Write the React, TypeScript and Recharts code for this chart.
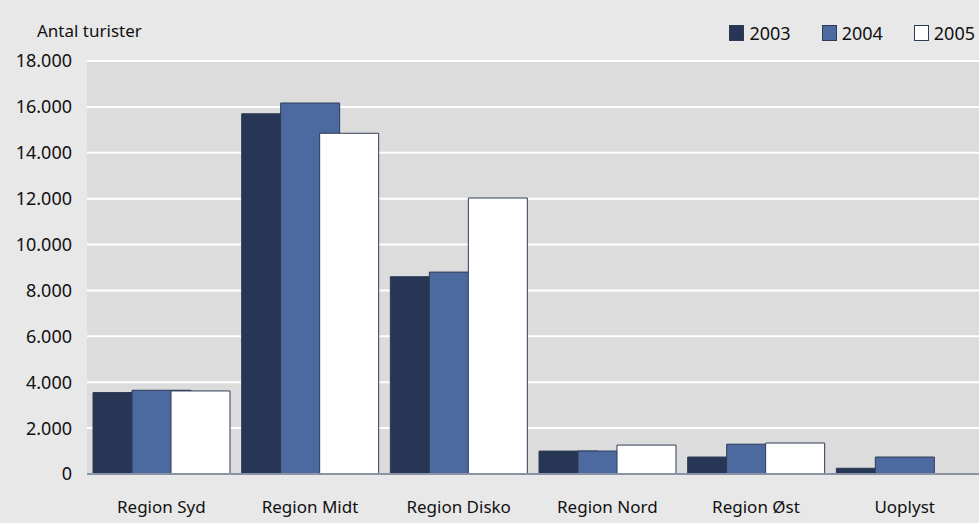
import { BarChart, Bar, XAxis, YAxis, CartesianGrid } from 'recharts';

const regions = ['Region Syd', 'Region Midt', 'Region Disko', 'Region Nord', 'Region Øst', 'Uoplyst'];
const tourists2003 = [3550, 15700, 8600, 1000, 740, 250];
const tourists2004 = [3650, 16170, 8800, 1000, 1300, 740];
const tourists2005 = [3620, 14850, 12030, 1260, 1350, 20];
const yTicks = [0, 2000, 4000, 6000, 8000, 10000, 12000, 14000, 16000, 18000];

const series = [
  { key: 'y2003', name: '2003', fill: '#263654' },
  { key: 'y2004', name: '2004', fill: '#4d6aa0' },
  { key: 'y2005', name: '2005', fill: '#ffffff' },
];

const data = regions.map((region, i) => ({
  region,
  y2003: tourists2003[i],
  y2004: tourists2004[i],
  y2005: tourists2005[i],
}));

const font = '"Noto Sans", sans-serif';

function fmt(v: number) {
  return v === 0 ? '0' : v.toLocaleString('da-DK').replace(/,/g, '.');
}

export default function App() {
  return (
    <div style={{ position: 'absolute', left: 0, top: 0, width: 979, height: 523, background: '#e8e8e8' }}>
      <div style={{ position: 'absolute', left: 37, top: 19, fontFamily: font, fontSize: 17, color: '#111' }}>
        Antal turister
      </div>
      {/* legend, top right */}
      <div
        style={{
          position: 'absolute',
          right: 4,
          top: 21,
          display: 'flex',
          gap: 31,
          fontFamily: font,
          fontSize: 18,
          color: '#111',
          zIndex: 1,
        }}
      >
        {series.map((s) => (
          <div key={s.key} style={{ display: 'flex', alignItems: 'center', gap: 5 }}>
            <span
              style={{
                display: 'inline-block',
                width: 13,
                height: 14,
                background: s.fill,
                border: '1px solid #2e3b57',
              }}
            />
            {s.name}
          </div>
        ))}
      </div>
      <BarChart
        width={979}
        height={523}
        data={data}
        margin={{ top: 61, right: 0, left: 0, bottom: 19 }}
        barSize={59}
        barGap={-20}
      >
        <CartesianGrid vertical={false} stroke="#ffffff" strokeWidth={2} fill="#dcdcdc" fillOpacity={1} />
        <XAxis
          dataKey="region"
          height={30}
          tickLine={false}
          tickSize={0}
          tickMargin={27}
          axisLine={{ stroke: '#8a93a5', strokeWidth: 2 }}
          tick={{ fill: '#111', fontSize: 17, fontFamily: font }}
        />
        <YAxis
          width={87}
          domain={[0, 18000]}
          ticks={yTicks}
          interval={0}
          tickFormatter={fmt}
          axisLine={false}
          tickLine={false}
          tickSize={0}
          tickMargin={15}
          tick={{ fill: '#111', fontSize: 18, fontFamily: font }}
        />
        {series.map((s) => (
          <Bar
            key={s.key}
            dataKey={s.key}
            name={s.name}
            fill={s.fill}
            stroke="#2e3b57"
            strokeWidth={1}
            isAnimationActive={false}
          />
        ))}
      </BarChart>
    </div>
  );
}
